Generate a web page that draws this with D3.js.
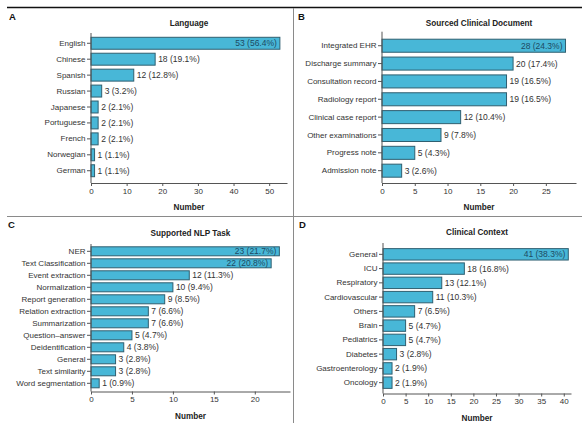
<!DOCTYPE html>
<html>
<head>
<meta charset="utf-8">
<script src="https://cdn.jsdelivr.net/npm/d3@7"></script>
<style>
  html, body { margin: 0; padding: 0; background: #fff; }
  svg { display: block; }
  text { font-family: "Liberation Sans", Arial, sans-serif; }
</style>
</head>
<body>
<svg id="chart" width="582" height="423"></svg>
<script>
// Panel A: language of the datasets
const languageCats = ["English", "Chinese", "Spanish", "Russian", "Japanese", "Portuguese", "French", "Norwegian", "German"];
const languageCounts = [53, 18, 12, 3, 2, 2, 2, 1, 1];
const languagePct = ["56.4", "19.1", "12.8", "3.2", "2.1", "2.1", "2.1", "1.1", "1.1"];
const languageTicks = [0, 10, 20, 30, 40, 50];

// Panel B: sourced clinical document
const documentCats = ["Integrated EHR", "Discharge summary", "Consultation record", "Radiology report", "Clinical case report", "Other examinations", "Progress note", "Admission note"];
const documentCounts = [28, 20, 19, 19, 12, 9, 5, 3];
const documentPct = ["24.3", "17.4", "16.5", "16.5", "10.4", "7.8", "4.3", "2.6"];
const documentTicks = [0, 5, 10, 15, 20, 25];

// Panel C: supported NLP task
const taskCats = ["NER", "Text Classification", "Event extraction", "Normalization", "Report generation", "Relation extraction", "Summarization", "Question\u2013answer", "Deidentification", "General", "Text similarity", "Word segmentation"];
const taskCounts = [23, 22, 12, 10, 9, 7, 7, 5, 4, 3, 3, 1];
const taskPct = ["21.7", "20.8", "11.3", "9.4", "8.5", "6.6", "6.6", "4.7", "3.8", "2.8", "2.8", "0.9"];
const taskTicks = [0, 5, 10, 15, 20];

// Panel D: clinical context
const contextCats = ["General", "ICU", "Respiratory", "Cardiovascular", "Others", "Brain", "Pediatrics", "Diabetes", "Gastroenterology", "Oncology"];
const contextCounts = [41, 18, 13, 11, 7, 5, 5, 3, 2, 2];
const contextPct = ["38.3", "16.8", "12.1", "10.3", "6.5", "4.7", "4.7", "2.8", "1.9", "1.9"];
const contextTicks = [0, 5, 10, 15, 20, 25, 30, 35, 40];

const svg = d3.select("#chart");
const FILL = "#48b7d7";
const EDGE = "#2f5f70";
const INK = "#333";
const AXIS = "#555";

// frame: heavy top rule, grey dividers between the four panels
svg.append("line").attr("x1", 7).attr("x2", 582).attr("y1", 7.5).attr("y2", 7.5)
  .attr("stroke", "#111").attr("stroke-width", 1.6);
svg.append("line").attr("x1", 293.5).attr("x2", 293.5).attr("y1", 8).attr("y2", 423)
  .attr("stroke", "#8a8a8a").attr("stroke-width", 1);
svg.append("line").attr("x1", 7).attr("x2", 582).attr("y1", 216.5).attr("y2", 216.5)
  .attr("stroke", "#8a8a8a").attr("stroke-width", 1);

function panel(cfg) {
  const g = svg.append("g");
  const x = d3.scaleLinear().domain([0, cfg.max]).range([cfg.x0, cfg.x1]);
  const y = d3.scaleBand().domain(cfg.cats).range(cfg.band)
    .paddingInner(cfg.pad).paddingOuter(cfg.pad / 2);

  // panel letter and title
  g.append("text").attr("x", cfg.letterX).attr("y", cfg.letterY)
    .attr("font-size", 9.5).attr("font-weight", "bold").attr("fill", "#111").text(cfg.letter);
  g.append("text").attr("x", (cfg.x0 + cfg.x1) / 2).attr("y", cfg.titleY)
    .attr("text-anchor", "middle").attr("font-size", 8.2).attr("font-weight", "bold")
    .attr("fill", "#222").text(cfg.title);

  // bars
  g.selectAll("rect.bar").data(cfg.cats).join("rect")
    .attr("class", "bar")
    .attr("x", x(0))
    .attr("y", d => y(d))
    .attr("width", (d, i) => x(cfg.values[i]) - x(0))
    .attr("height", y.bandwidth())
    .attr("fill", FILL).attr("stroke", EDGE).attr("stroke-width", 1);

  // value labels; the longest bars carry theirs inside
  g.selectAll("text.val").data(cfg.cats).join("text")
    .attr("class", "val")
    .each(function (d, i) {
      const v = cfg.values[i];
      const inside = x(v) + 46 > cfg.x1;
      d3.select(this)
        .attr("x", inside ? x(v) - 3 : x(v) + 3)
        .attr("y", y(d) + y.bandwidth() / 2)
        .attr("dy", "0.35em")
        .attr("text-anchor", inside ? "end" : "start")
        .attr("fill", inside ? "#1d4a63" : INK)
        .text(`${v} (${cfg.pct[i]}%)`);
    })
    .attr("font-size", 8.5);

  // y axis
  const yAxis = g.append("g").attr("transform", `translate(${x(0)},0)`)
    .call(d3.axisLeft(y).tickSize(4).tickPadding(1.5));
  yAxis.select(".domain").remove();
  yAxis.selectAll("line").attr("stroke", AXIS);
  yAxis.selectAll("text").attr("font-size", 8).attr("fill", INK).attr("font-family", null);
  g.append("line").attr("x1", x(0)).attr("x2", x(0)).attr("y1", cfg.yTop).attr("y2", cfg.axisY)
    .attr("stroke", AXIS).attr("stroke-width", 1);

  // x axis
  const xAxis = g.append("g").attr("transform", `translate(0,${cfg.axisY})`)
    .call(d3.axisBottom(x).tickValues(cfg.ticks).tickSize(3).tickSizeOuter(0).tickPadding(2));
  xAxis.select(".domain").attr("stroke", AXIS);
  xAxis.selectAll("line").attr("stroke", AXIS);
  xAxis.selectAll("text").attr("font-size", 8).attr("fill", INK).attr("font-family", null);

  g.append("text").attr("x", (cfg.x0 + cfg.x1) / 2).attr("y", cfg.axisY + 27)
    .attr("text-anchor", "middle").attr("font-size", 8.2).attr("font-weight", "bold")
    .attr("fill", "#222").text("Number");
}

panel({
  letter: "A", letterX: 9, letterY: 20, title: "Language", titleY: 26,
  cats: languageCats, values: languageCounts, pct: languagePct, ticks: languageTicks,
  max: 55, x0: 91, x1: 287, band: [35.3, 178.7], pad: 0.25, yTop: 33, axisY: 183
});
panel({
  letter: "B", letterX: 298, letterY: 20, title: "Sourced Clinical Document", titleY: 26,
  cats: documentCats, values: documentCounts, pct: documentPct, ticks: documentTicks,
  max: 29.6, x0: 382, x1: 576, band: [36.8, 179.6], pad: 0.27, yTop: 31.7, axisY: 183
});
panel({
  letter: "C", letterX: 8, letterY: 228, title: "Supported NLP Task", titleY: 235.5,
  cats: taskCats, values: taskCounts, pct: taskPct, ticks: taskTicks,
  max: 24.3, x0: 91, x1: 290, band: [245.3, 389.3], pad: 0.25, yTop: 244, axisY: 391.5
});
panel({
  letter: "D", letterX: 299, letterY: 228, title: "Clinical Context", titleY: 235,
  cats: contextCats, values: contextCounts, pct: contextPct, ticks: contextTicks,
  max: 41.6, x0: 383, x1: 571, band: [247.2, 389.8], pad: 0.2, yTop: 243, axisY: 393.5
});
</script>
</body>
</html>
